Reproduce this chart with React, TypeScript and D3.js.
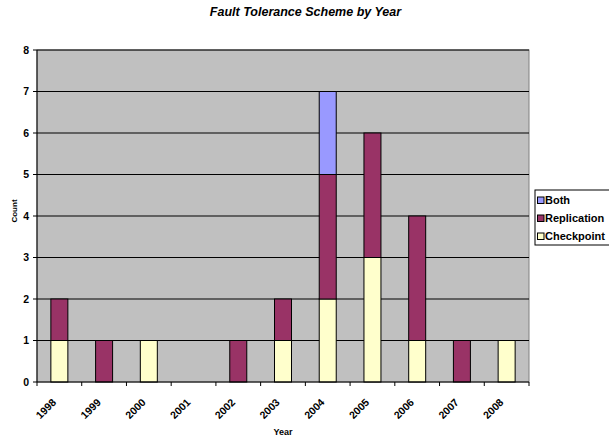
import * as d3 from 'd3';

// Fault tolerance scheme by year
const YEARS = ['1998', '1999', '2000', '2001', '2002', '2003', '2004', '2005', '2006', '2007', '2008'];
const CHECKPOINT = [1, 0, 1, 0, 0, 1, 2, 3, 1, 0, 1];
const REPLICATION = [1, 1, 0, 0, 1, 1, 3, 3, 3, 1, 0];
const BOTH = [0, 0, 0, 0, 0, 0, 2, 0, 0, 0, 0];
const SERIES = ['Checkpoint', 'Replication', 'Both'];
const COLORS = { Checkpoint: '#ffffcc', Replication: '#993366', Both: '#9999ff' };
const Y_TICKS = [0, 1, 2, 3, 4, 5, 6, 7, 8];

const W = 609, H = 441;
const M = { left: 37, right: 80, top: 50, bottom: 59 };
const FONT = 'Liberation Sans, Arial, sans-serif';

export default function App() {
  const x = d3.scaleBand().domain(YEARS).range([M.left, W - M.right]).paddingInner(0.62).paddingOuter(0.31);
  const y = d3.scaleLinear().domain([0, 8]).range([H - M.bottom, M.top]);

  const rows = YEARS.map((yr, i) => ({ year: yr, Checkpoint: CHECKPOINT[i], Replication: REPLICATION[i], Both: BOTH[i] }));
  const stacked = d3.stack<any>().keys(SERIES)(rows);

  const x0 = M.left, x1 = W - M.right;
  const step = (x1 - x0) / YEARS.length;
  const bounds = d3.range(YEARS.length + 1).map(i => x0 + i * step);

  return (
    <svg width={W} height={H} style={{ position: 'absolute', left: 0, top: 0, background: '#fff' }} fontFamily={FONT}>
      <text x={305.5} y={16} textAnchor="middle" fontSize={12.5} fontWeight="bold" fontStyle="italic">
        Fault Tolerance Scheme by Year
      </text>

      {/* plot area */}
      <rect x={x0} y={y(8)} width={x1 - x0} height={y(0) - y(8)} fill="#c0c0c0" stroke="#808080" />
      {Y_TICKS.slice(1).map(t => (
        <line key={t} x1={x0} x2={x1} y1={y(t)} y2={y(t)} stroke="#000" strokeWidth={1} />
      ))}

      {/* bars */}
      {stacked.map(s => (
        <g key={s.key} fill={COLORS[s.key as keyof typeof COLORS]}>
          {s.map((d, i) => d[1] - d[0] > 0 ? (
            <rect key={i} x={x(YEARS[i])!} width={x.bandwidth()} y={y(d[1])} height={y(d[0]) - y(d[1])}
              stroke="#000" strokeWidth={1} />
          ) : null)}
        </g>
      ))}

      {/* y axis */}
      <line x1={x0} x2={x0} y1={y(8)} y2={y(0)} stroke="#000" />
      {Y_TICKS.map(t => (
        <g key={t}>
          <line x1={x0 - 4} x2={x0} y1={y(t)} y2={y(t)} stroke="#000" />
          <text x={x0 - 8} y={y(t) + 3.8} textAnchor="end" fontSize={10.5} fontWeight="bold">{t}</text>
        </g>
      ))}
      <text transform={`translate(17,211) rotate(-90)`} textAnchor="middle" fontSize={8} fontWeight="bold">Count</text>

      {/* x axis */}
      <line x1={x0} x2={x1} y1={y(0)} y2={y(0)} stroke="#000" />
      {bounds.map((b, i) => (
        <line key={i} x1={b} x2={b} y1={y(0)} y2={y(0) + 4} stroke="#000" />
      ))}
      {YEARS.map(yr => (
        <text key={yr} transform={`translate(${x(yr)! + x.bandwidth() / 2 - 2.5},${y(0) + 21}) rotate(-45)`}
          textAnchor="end" fontSize={10.5} fontWeight="bold">{yr}</text>
      ))}
      <text x={(x0 + x1) / 2} y={435} textAnchor="middle" fontSize={9} fontWeight="bold">Year</text>

      {/* legend */}
      <rect x={535} y={190} width={80} height={55} fill="#fff" stroke="#000" />
      {['Both', 'Replication', 'Checkpoint'].map((k, i) => (
        <g key={k}>
          <rect x={537.5} y={197 + i * 18} width={6.5} height={6.5} fill={COLORS[k as keyof typeof COLORS]} stroke="#000" />
          <text x={545} y={204 + i * 18} fontSize={11} fontWeight="bold">{k}</text>
        </g>
      ))}
    </svg>
  );
}
